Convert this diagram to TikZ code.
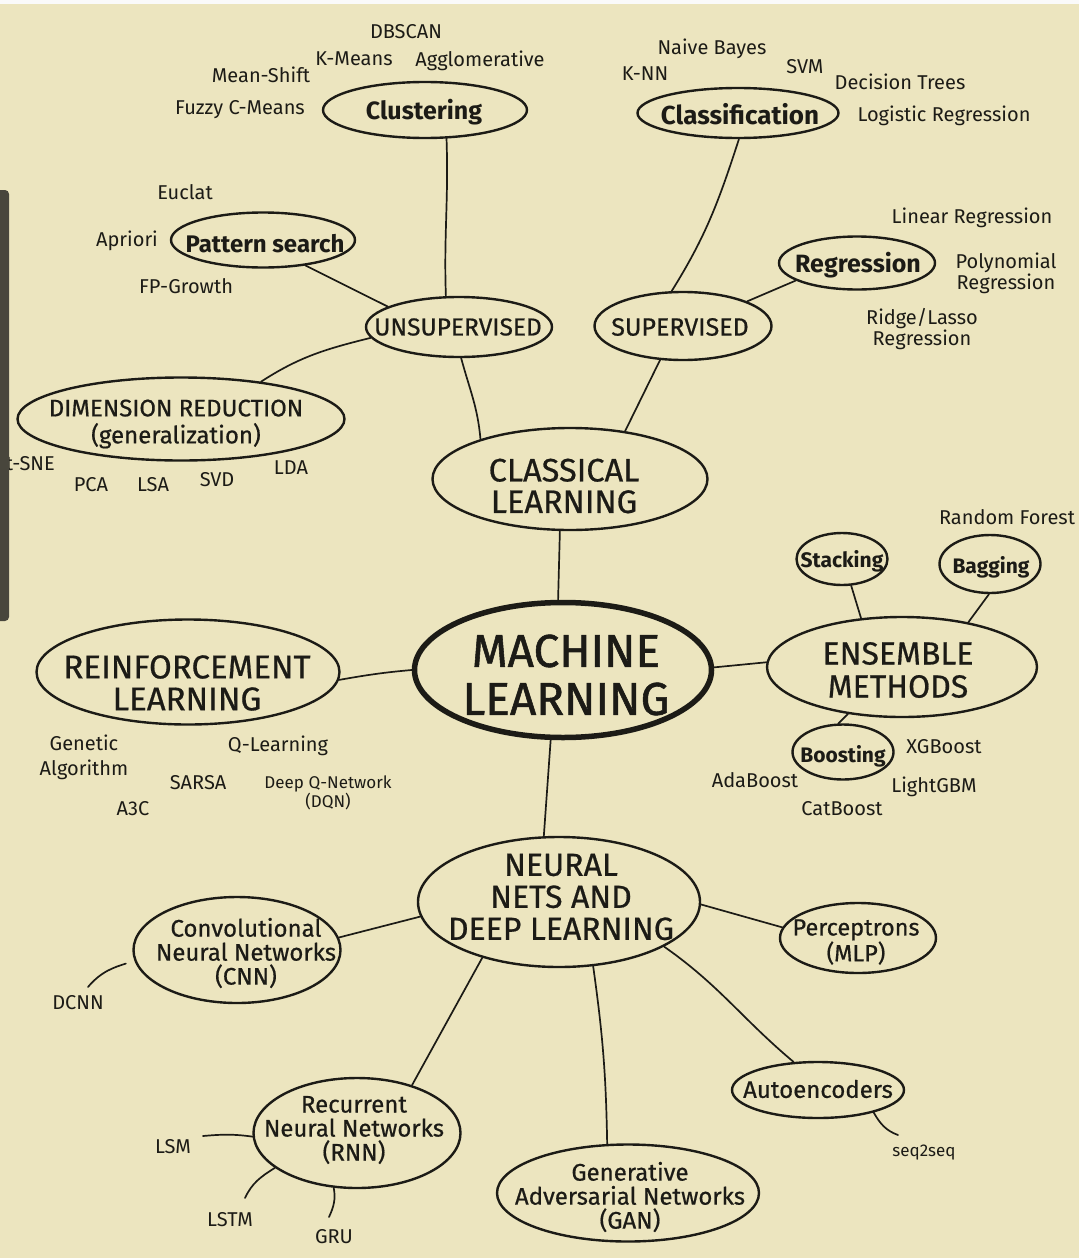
\documentclass[tikz,border=0pt]{standalone}
\usepackage{fontspec}
\setmainfont{Fira Sans}
\newfontfamily\heavyfont{Fira Sans}[FakeBold=1.2]
\newfontfamily\medfont{Fira Sans}[FakeBold=0.6]
\usetikzlibrary{shapes.geometric}
\definecolor{paper}{RGB}{236,229,191}
\definecolor{ink}{RGB}{28,27,22}
\definecolor{barc}{RGB}{72,70,60}
\newcommand\fsz[2]{\fontsize{#1}{#2}\selectfont}
\begin{document}
\begin{tikzpicture}[x=1pt,y=-1pt,
  bub/.style={ellipse, draw=ink, line width=2.4pt, inner sep=0pt},
  mainbub/.style={bub, line width=5.5pt},
  conn/.style={draw=ink, line width=1.7pt, line cap=round},
  lbl/.style={text=ink, inner sep=0pt, align=center},
  big/.style={lbl, font=\heavyfont\fsz{46}{48}},
  head/.style={lbl, font=\medfont\fsz{33}{32}},
  sub/.style={lbl, font=\medfont\fsz{24.5}{27}},
  leaf/.style={lbl, font=\bfseries\fsz{24}{26}},
  med/.style={lbl, font=\medfont\fsz{24}{24}},
  tiny/.style={lbl, font=\fsz{20}{20}},
  tinier/.style={lbl, font=\fsz{17}{19}}]
\useasboundingbox (0,0) rectangle (1079,1258);
\fill[paper] (0,0) rectangle (1079,1258);
\fill[white!96!gray] (0,0) rectangle (1079,4);

% ---- main ellipses
\node[mainbub, minimum width=297pt, minimum height=135pt] (ml) at (563,670) {};
\node[big] (mlT) at (566,675) {MACHINE\\LEARNING};
\node[bub, minimum width=275pt, minimum height=102pt] (cl) at (570,479) {};
\node[head, font=\medfont\fsz{32.5}{31.5}] (clT) at (564,486) {CLASSICAL\\LEARNING};
\node[bub, minimum width=282pt, minimum height=130pt] (nn) at (559,902) {};
\node[head, font=\medfont\fsz{32}{32}] (nnT) at (561,897) {NEURAL\\NETS AND\\DEEP LEARNING};
\node[bub, minimum width=303pt, minimum height=105pt] (rl) at (188,672) {};
\node[head] (rlT) at (187,683) {REINFORCEMENT\\LEARNING};
\node[bub, minimum width=270pt, minimum height=100pt] (ens) at (902,667) {};
\node[head, font=\medfont\fsz{32}{33}] (ensT) at (898,670) {ENSEMBLE\\METHODS};

% ---- classical branch
\node[bub, minimum width=186pt, minimum height=60pt] (unsup) at (459,327) {};
\node[sub] (unsupT) at (458,327) {UNSUPERVISED};
\node[bub, minimum width=177pt, minimum height=68pt] (sup) at (683,326) {};
\node[sub, font=\medfont\fsz{25}{27}] (supT) at (680,327) {SUPERVISED};
\node[bub, minimum width=204pt, minimum height=56pt] (clus) at (425,110) {};
\node[leaf, font=\bfseries\fsz{25}{26}] (clusT) at (424,112) {Clustering};
\node[bub, minimum width=201pt, minimum height=50pt] (cls) at (738,113) {};
\node[leaf, font=\bfseries\fsz{26}{26}] (clsT) at (740,114) {Classification};
\node[bub, minimum width=184pt, minimum height=55pt] (pat) at (263,240) {};
\node[leaf] (patT) at (265,244) {Pattern search};
\node[bub, minimum width=156pt, minimum height=53pt] (reg) at (857,263) {};
\node[leaf, font=\bfseries\fsz{25}{26}] (regT) at (858,265) {Regression};
\node[bub, minimum width=327pt, minimum height=83pt] (dr) at (181,419) {};
\node[sub, font=\medfont\fsz{24}{27}] (drT) at (176,424) {DIMENSION REDUCTION\\(generalization)};

% ---- ensemble branch
\node[bub, minimum width=91pt, minimum height=52pt] (stk) at (842,559) {};
\node[leaf, font=\bfseries\fsz{21}{22}] (stkT) at (842,561) {Stacking};
\node[bub, minimum width=101pt, minimum height=58pt] (bag) at (990,564) {};
\node[leaf, font=\bfseries\fsz{21}{22}] (bagT) at (991,567) {Bagging};
\node[bub, minimum width=101pt, minimum height=55pt] (boo) at (843,752) {};
\node[leaf, font=\bfseries\fsz{21}{22}] (booT) at (843,756) {Boosting};

% ---- neural branch
\node[bub, minimum width=207pt, minimum height=106pt] (cnn) at (237,950) {};
\node[med] (cnnT) at (246,953) {Convolutional\\Neural Networks\\(CNN)};
\node[bub, minimum width=207pt, minimum height=110pt] (rnn) at (357,1133) {};
\node[med] (rnnT) at (354,1130) {Recurrent\\Neural Networks\\(RNN)};
\node[bub, minimum width=262pt, minimum height=97pt] (gan) at (628,1193) {};
\node[med] (ganT) at (630,1197) {Generative\\Adversarial Networks\\(GAN)};
\node[bub, minimum width=156pt, minimum height=70pt] (mlp) at (858,938) {};
\node[med, font=\medfont\fsz{23.5}{24}] (mlpT) at (856,942) {Perceptrons\\(MLP)};
\node[bub, minimum width=172pt, minimum height=56pt] (ae) at (818,1090) {};
\node[med] (aeT) at (818,1089) {Autoencoders};

% ---- small labels
\node[tiny] (dbscan) at (406,32) {DBSCAN};
\node[tiny] (kmeans) at (354,59) {K-Means};
\node[tiny] (agglo) at (480,61) {Agglomerative};
\node[tiny] (meansh) at (261,75) {Mean-Shift};
\node[tiny] (fuzzy) at (240,110) {Fuzzy C-Means};
\node[tiny] (naive) at (712,49) {Naive Bayes};
\node[tiny] (knn) at (645,74) {K-NN};
\node[tiny] (svm) at (805,67) {SVM};
\node[tiny] (dtree) at (900,82) {Decision Trees};
\node[tiny] (logreg) at (944,116) {Logistic Regression};
\node[tiny] (euclat) at (185,192) {Euclat};
\node[tiny] (apriori) at (127,241) {Apriori};
\node[tiny] (fpg) at (186,286) {FP-Growth};
\node[tiny] (linreg) at (972,218) {Linear Regression};
\node[tiny, font=\fsz{20}{19}] (polyreg) at (1006,273) {Polynomial\\Regression};
\node[tiny, font=\fsz{20}{19}] (ridge) at (922,329) {Ridge/Lasso\\Regression};
\node[tiny] (pca) at (91,485) {PCA};
\node[tiny] (lsa) at (153,485) {LSA};
\node[tiny] (svd) at (217,480) {SVD};
\node[tiny] (lda) at (291,468) {LDA};
\node[tiny, anchor=east] (tsne) at (55,464) {t-SNE};
\node[tiny] (rf) at (1007,517) {Random Forest};
\node[tiny] (xgb) at (944,747) {XGBoost};
\node[tiny] (ada) at (755,780) {AdaBoost};
\node[tiny] (lgbm) at (934,787) {LightGBM};
\node[tiny] (cat) at (842,809) {CatBoost};
\node[tiny, font=\fsz{20}{25}] (gen) at (84,757) {Genetic\\Algorithm};
\node[tiny] (ql) at (278,746) {Q-Learning};
\node[tiny] (sarsa) at (198,783) {SARSA};
\node[tinier] (dqn) at (328,793) {Deep Q-Network\\(DQN)};
\node[tiny] (a3c) at (133,809) {A3C};
\node[tiny] (dcnn) at (78,1003) {DCNN};
\node[tiny] (lsm) at (173,1147) {LSM};
\node[tiny] (lstm) at (230,1220) {LSTM};
\node[tiny] (gru) at (334,1237) {GRU};
\node[tinier] (s2s) at (924,1153) {seq2seq};

% free ends
\coordinate (dcnnE) at (88,987);
\coordinate (lsmE) at (203,1136);
\coordinate (lstmE) at (245,1198);
\coordinate (gruE) at (329,1217);
\coordinate (s2sE) at (898,1135);

% ---- connectors
\draw[conn] (ml.94) -- (cl.-101);
\draw[conn] (cl.156) to[out=95,in=-75] (unsup.-86);
\draw[conn] (cl.41.6) -- (sup.-124);
\draw[conn] (unsup.113) to[out=92,in=-88] (clus.-53);
\draw[conn] (unsup.164) -- (pat.-31.5);
\draw[conn] (unsup.-173) to[out=194,in=33] (dr.25.7);
\draw[conn] (sup.108) to[out=58,in=-108] (cls.-88);
\draw[conn] (sup.21.8) -- (reg.-164.4);
\draw[conn] (ml.180) to[out=185,in=10] (rl.-3.8);
\draw[conn] (ml.1) -- (ens.178);
\draw[conn] (ens.130.6) -- (stk.-71);
\draw[conn] (ens.34.6) -- (bag.-92);
\draw[conn] (ens.-139) -- (boo.99);
\draw[conn] (ml.-100.5) -- (nn.103.8);
\draw[conn] (nn.-174.5) -- (cnn.7);
\draw[conn] (nn.-1.6) -- (mlp.172.7);
\draw[conn] (nn.-144.7) -- (rnn.41.8);
\draw[conn] (nn.-62.4) to[out=-82,in=91] (gan.113);
\draw[conn] (nn.-23.4) to[out=-35,in=140] (ae.131.5);
\draw[conn] (ae.-22) to[out=-60,in=160] (s2sE);
\draw[conn, shorten <=9pt] (cnn.186.6) to[out=198,in=50] (dcnnE);
\draw[conn] (rnn.182) to[out=172,in=5] (lsmE);
\draw[conn] (rnn.203) to[out=212,in=65] (lstmE);
\draw[conn] (rnn.247) to[out=-80,in=65] (gruE);

% ---- side bar (screen artefact)
\fill[barc, rounded corners=4pt] (-10,190) rectangle (9,621);
\end{tikzpicture}
\end{document}
